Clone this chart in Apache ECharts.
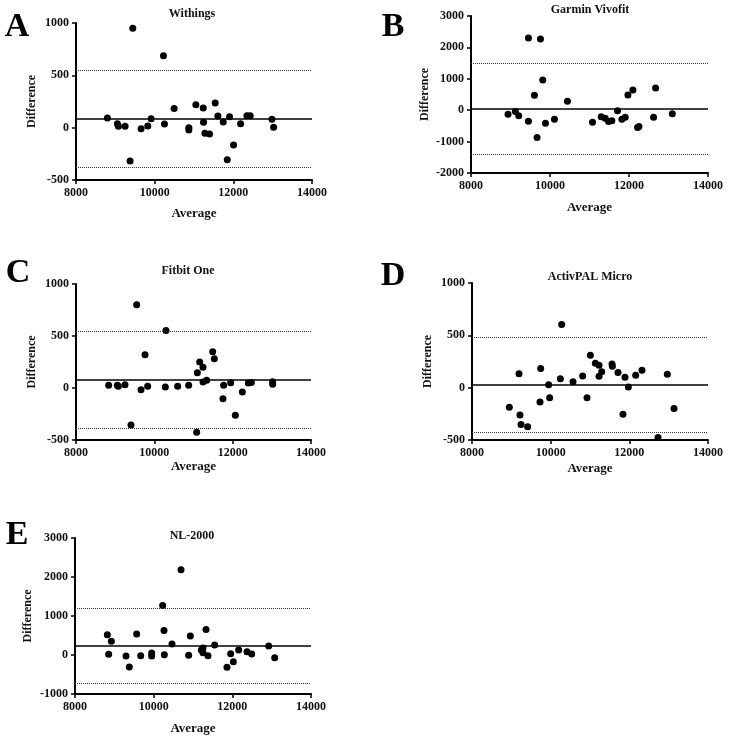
<!DOCTYPE html>
<html>
<head>
<meta charset="utf-8">
<script src="https://cdn.jsdelivr.net/npm/echarts@6/dist/echarts.min.js"></script>
<style>
html,body{margin:0;padding:0;background:#fff;}
#chart{width:729px;height:740px;}
</style>
</head>
<body>
<div id="chart"></div>
<script>
// ---- Data ----
const panelTitles = ["Withings", "Garmin Vivofit", "Fitbit One", "ActivPAL Micro", "NL-2000"];
const panelLetters = ["A", "B", "C", "D", "E"];
const xTicks = [8000, 10000, 12000, 14000];

const withingsAvg  = [9443,10224,8798,9052,9078,9248,9375,9655,9825,9910,10249,10495,10869,10869,11047,11234,11242,11276,11395,11539,11607,11743,11845,11904,12006,12184,12345,12430,12982,13024];
const withingsDiff = [949,688,92,38,13,13,-318,-10,16,86,35,182,0,-22,220,188,51,-54,-60,236,111,54,-306,105,-166,38,115,115,80,3];

const garminAvg  = [8938,9124,9208,9454,9454,9606,9673,9758,9817,9885,10113,10442,11076,11296,11397,11482,11566,11710,11820,11904,11972,12099,12217,12251,12623,12674,13096];
const garminDiff = [-127,-42,-180,2298,-349,477,-868,2266,964,-413,-286,286,-381,-212,-254,-360,-339,-20,-286,-222,487,646,-551,-519,-222,710,-117];

const fitbitAvg  = [8834,9055,9081,9251,9404,9549,9660,9762,9830,10281,10298,10596,10877,11098,11081,11158,11243,11243,11336,11490,11532,11753,11770,11949,12068,12247,12400,12477,13021,13021];
const fitbitDiff = [26,26,16,32,-356,801,-16,320,16,10,554,16,26,147,-426,250,199,58,74,349,282,-103,26,51,-263,-38,48,54,61,35];

const activpalAvg  = [8949,9195,9220,9246,9415,9729,9746,9949,9975,10246,10280,10568,10814,10924,11009,11136,11229,11229,11297,11560,11568,11712,11839,11890,11975,12161,12322,12729,12966,13136];
const activpalDiff = [-188,134,-262,-351,-373,-137,182,29,-96,86,603,57,112,-96,310,233,214,108,153,227,204,144,-255,99,6,118,166,-475,128,-198];

const nlAvg  = [8822,8856,8924,9297,9381,9568,9670,9949,9949,10229,10263,10271,10466,10695,10890,10932,11212,11254,11254,11331,11381,11551,11864,11958,12026,12161,12373,12492,12924,13077];
const nlDiff = [520,17,350,-26,-307,537,-17,51,-26,1271,631,9,281,2183,-9,486,128,179,60,657,-17,256,-316,34,-171,128,83,23,230,-68];

const meanBias  = [89, 45, 77, 29, 247];
const upperLoA  = [548, 1493, 545, 482, 1203];
const lowerLoA  = [-382, -1398, -388, -424, -716];
const yMin = [-500, -2000, -500, -500, -1000];
const yMax = [1000, 3000, 1000, 1000, 3000];
const yStep = [500, 1000, 500, 500, 1000];

const avgs = [withingsAvg, garminAvg, fitbitAvg, activpalAvg, nlAvg];
const diffs = [withingsDiff, garminDiff, fitbitDiff, activpalDiff, nlDiff];

// ---- Layout ----
const FONT = "'Liberation Serif','DejaVu Serif','Times New Roman',serif";
const grids = [
  {left: 76,  top: 23,  width: 236, height: 157},
  {left: 471, top: 16,  width: 237, height: 157},
  {left: 76,  top: 284, width: 235, height: 156},
  {left: 472, top: 283, width: 236, height: 157},
  {left: 75,  top: 538, width: 236, height: 156}
];
const xNameGap = [27, 28, 19, 22, 28];
const yNameGap = [38, 40, 38, 38, 41];
const titlePos = [[192, 14], [590, 10], [188, 271], [590, 277], [192, 536]];
const letterPos = [[17, 27], [393, 27], [18, 273], [393, 276], [17, 535]];

const plain = v => String(v);
const xAxes = [], yAxes = [], series = [], graphics = [];
for (let i = 0; i < 5; i++) {
  xAxes.push({
    gridIndex: i, type: 'value', min: 8000, max: 14000, interval: 2000,
    name: 'Average', nameLocation: 'middle', nameGap: xNameGap[i],
    nameTextStyle: {fontFamily: FONT, fontWeight: 'bold', fontSize: 13, color: '#111'},
    axisLine: {show: true, onZero: false, lineStyle: {color: '#000', width: 2}},
    axisTick: {show: true, length: 4, lineStyle: {color: '#000', width: 1.5}},
    axisLabel: {fontFamily: FONT, fontWeight: 'bold', fontSize: 12, color: '#111', margin: 7, formatter: plain},
    splitLine: {show: false}
  });
  yAxes.push({
    gridIndex: i, type: 'value', min: yMin[i], max: yMax[i], interval: yStep[i],
    name: 'Difference', nameLocation: 'middle', nameGap: yNameGap[i], nameRotate: 90,
    nameTextStyle: {fontFamily: FONT, fontWeight: 'bold', fontSize: 12, color: '#111'},
    axisLine: {show: true, onZero: false, lineStyle: {color: '#000', width: 2}},
    axisTick: {show: true, length: 4, lineStyle: {color: '#000', width: 1.5}},
    axisLabel: {fontFamily: FONT, fontWeight: 'bold', fontSize: 12, color: '#111', margin: 7, formatter: plain},
    splitLine: {show: false}
  });
  series.push({
    type: 'scatter', xAxisIndex: i, yAxisIndex: i,
    data: avgs[i].map((x, k) => [x, diffs[i][k]]),
    symbol: 'circle', symbolSize: 7,
    itemStyle: {color: '#000', opacity: 1},
    silent: true,
    markLine: {
      silent: true, symbol: 'none', label: {show: false}, animation: false,
      data: [
        {yAxis: meanBias[i], lineStyle: {type: 'solid', color: '#000', width: 1.5}},
        {yAxis: upperLoA[i], lineStyle: {type: 'dotted', color: '#333', width: 1}},
        {yAxis: lowerLoA[i], lineStyle: {type: 'dotted', color: '#333', width: 1}}
      ]
    }
  });
  graphics.push({
    type: 'text', x: titlePos[i][0], y: titlePos[i][1],
    style: {text: panelTitles[i], font: "bold 12px " + FONT, fill: '#111',
            textAlign: 'center', textVerticalAlign: 'middle'}
  });
  graphics.push({
    type: 'text', x: letterPos[i][0], y: letterPos[i][1],
    style: {text: panelLetters[i], font: "bold 34px " + FONT, fill: '#000',
            textAlign: 'center', textVerticalAlign: 'middle'}
  });
}

const chart = echarts.init(document.getElementById('chart'), null, {renderer: 'canvas'});
chart.setOption({
  animation: false,
  backgroundColor: '#fff',
  grid: grids,
  xAxis: xAxes,
  yAxis: yAxes,
  series: series,
  graphic: graphics
});
</script>
</body>
</html>
